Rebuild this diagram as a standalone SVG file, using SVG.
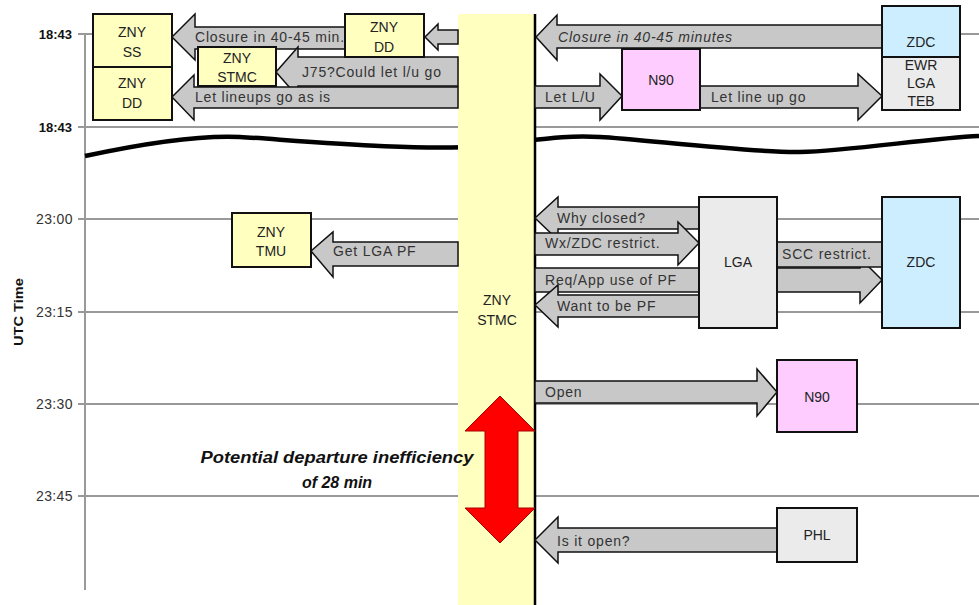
<svg xmlns="http://www.w3.org/2000/svg" width="979" height="605" viewBox="0 0 979 605">
<style>
.grid{stroke:#999;stroke-width:2;fill:none}
.box{stroke:#111;stroke-width:2}
.y{fill:#ffffc0}.b{fill:#cceeff}.g{fill:#ebebeb}.p{fill:#ffccff}
.arr{fill:#c8c8c8;stroke:#111;stroke-width:1.5;stroke-linejoin:miter}
.t{font-family:"Liberation Sans",Arial,sans-serif;font-size:14px;fill:#222;text-anchor:middle}
.a{font-family:"Liberation Sans",Arial,sans-serif;font-size:14px;letter-spacing:0.8px;fill:#333}
.ax{font-family:"Liberation Sans",Arial,sans-serif;font-size:14px;letter-spacing:0.4px;fill:#333;text-anchor:end}
.axb{font-family:"Liberation Sans",Arial,sans-serif;font-size:13px;font-weight:bold;fill:#111;text-anchor:end}
</style>
<rect width="979" height="605" fill="#fff"/>
<g id="axis">
<line class="grid" x1="85" y1="34" x2="85" y2="590"/>
<line class="grid" x1="78" y1="34" x2="93" y2="34"/>
<line class="grid" x1="960" y1="34" x2="979" y2="34"/>
<line class="grid" x1="78" y1="127" x2="979" y2="127"/>
<line class="grid" x1="78" y1="219" x2="979" y2="219"/>
<line class="grid" x1="78" y1="312" x2="979" y2="312"/>
<line class="grid" x1="78" y1="404" x2="979" y2="404"/>
<line class="grid" x1="78" y1="496" x2="979" y2="496"/>
<text class="axb" x="72" y="39">18:43</text>
<text class="axb" x="72" y="132">18:43</text>
<text class="ax" x="73" y="224">23:00</text>
<text class="ax" x="73" y="317">23:15</text>
<text class="ax" x="73" y="409">23:30</text>
<text class="ax" x="73" y="501">23:45</text>
<text class="axb" transform="translate(23,312) rotate(-90)" style="text-anchor:middle" textLength="68" lengthAdjust="spacingAndGlyphs">UTC Time</text>
<path d="M85,156 C150,142 200,135 240,137 S420,152 480,146 S560,135 600,137 S750,153 800,152 S930,138 979,136" fill="none" stroke="#000" stroke-width="4.5"/>
</g>
<g id="stmc-column">
<rect x="458" y="14" width="77" height="591" fill="#ffffc0"/>
<line x1="535" y1="14" x2="535" y2="605" stroke="#000" stroke-width="2.5"/>
<text class="t" x="497" y="305">ZNY</text>
<text class="t" x="497" y="325">STMC</text>
</g>
<g id="connectors">
<polygon class="arr" points="172,37 195,14 195,27 345,27 345,49 195,49 195,60"/>
<polygon class="arr" points="425,37 438,24 438,30 458,30 458,44 438,44 438,50"/>
<polygon class="arr" points="276,72 298,47 298,57 458,57 458,86 298,86 298,97"/>
<polygon class="arr" points="172,97 194,75 194,87 458,87 458,108 194,108 194,120"/>
<polygon class="arr" points="536,37 557,15 557,25 882,25 882,48 557,48 557,60"/>
<polygon class="arr" points="622,96 600,74 600,86 535,86 535,108 600,108 600,120"/>
<polygon class="arr" points="882,96 858,74 858,86 700,86 700,108 858,108 858,120"/>
<polygon class="arr" points="311,251 333,232 333,242 458,242 458,266 333,266 333,277"/>
<polygon class="arr" points="535,218 558,197 558,207 699,207 699,229 558,229 558,240"/>
<polygon class="arr" points="699,243 678,222 678,233 535,233 535,255 678,255 678,265"/>
<polygon class="arr" points="882,280 860,258 860,268 535,268 535,292 860,292 860,303"/>
<polygon class="arr" points="535,305 558,285 558,295 699,295 699,317 558,317 558,327"/>
<polygon class="arr" points="777,242 882,242 882,267 777,267"/>
<polygon class="arr" points="777,392 757,369 757,381 535,381 535,403 757,403 757,416"/>
<polygon class="arr" points="535,540 558,517 558,528 777,528 777,552 558,552 558,563"/>
<text class="a" x="195" y="42">Closure in 40-45 min.</text>
<text class="a" x="302" y="77">J75?Could let l/u go</text>
<text class="a" x="195" y="102">Let lineups go as is</text>
<text class="a" x="558" y="42" font-style="italic">Closure in 40-45 minutes</text>
<text class="a" x="545" y="102">Let L/U</text>
<text class="a" x="711" y="102">Let line up go</text>
<text class="a" x="333" y="256">Get LGA PF</text>
<text class="a" x="557" y="223">Why closed?</text>
<text class="a" x="545" y="248">Wx/ZDC restrict.</text>
<text class="a" x="545" y="285">Req/App use of PF</text>
<text class="a" x="557" y="311">Want to be PF</text>
<text class="a" x="782" y="259">SCC restrict.</text>
<text class="a" x="545" y="397">Open</text>
<text class="a" x="557" y="546">Is it open?</text>
</g>
<g id="zny-ss"><rect class="box y" x="93" y="14" width="79" height="53"/><text class="t" x="132" y="37">ZNY</text><text class="t" x="132" y="57">SS</text></g>
<g id="zny-dd-1"><rect class="box y" x="93" y="67" width="79" height="53"/><text class="t" x="132" y="88">ZNY</text><text class="t" x="132" y="108">DD</text></g>
<g id="zny-stmc-small"><rect class="box y" x="198" y="47" width="78" height="39"/><text class="t" x="237" y="63">ZNY</text><text class="t" x="237" y="82">STMC</text></g>
<g id="zny-dd-2"><rect class="box y" x="345" y="14" width="79" height="43"/><text class="t" x="384" y="32">ZNY</text><text class="t" x="384" y="52">DD</text></g>
<g id="zdc-top"><rect class="box b" x="882" y="6" width="78" height="51"/><text class="t" x="921" y="47">ZDC</text></g>
<g id="ewr-lga-teb"><rect class="box g" x="882" y="57" width="78" height="53"/><text class="t" x="921" y="70">EWR</text><text class="t" x="921" y="88">LGA</text><text class="t" x="921" y="106">TEB</text></g>
<g id="n90-top"><rect class="box p" x="622" y="49" width="78" height="61"/><text class="t" x="661" y="85">N90</text></g>
<g id="zny-tmu"><rect class="box y" x="232" y="213" width="79" height="54"/><text class="t" x="271" y="237">ZNY</text><text class="t" x="271" y="256">TMU</text></g>
<g id="lga"><rect class="box g" x="699" y="197" width="78" height="131"/><text class="t" x="738" y="267">LGA</text></g>
<g id="zdc-mid"><rect class="box b" x="882" y="197" width="78" height="131"/><text class="t" x="921" y="267">ZDC</text></g>
<g id="n90-bottom"><rect class="box p" x="777" y="360" width="80" height="72"/><text class="t" x="817" y="402">N90</text></g>
<g id="phl"><rect class="box g" x="777" y="508" width="80" height="54"/><text class="t" x="817" y="540">PHL</text></g>
<g id="inefficiency">
<polygon points="500,396 535,431 518,431 518,508 535,508 500,543 465,508 485,508 485,431 465,431" fill="#ff0000" stroke="#aa0000" stroke-width="1"/>
<text x="337" y="463" textLength="273" lengthAdjust="spacingAndGlyphs" style="font-family:'Liberation Sans',Arial,sans-serif;font-size:16px;font-weight:bold;font-style:italic;text-anchor:middle;fill:#111">Potential departure inefficiency</text>
<text x="337" y="488" style="font-family:'Liberation Sans',Arial,sans-serif;font-size:16px;font-weight:bold;font-style:italic;text-anchor:middle;fill:#111">of 28 min</text>
</g>
</svg>
